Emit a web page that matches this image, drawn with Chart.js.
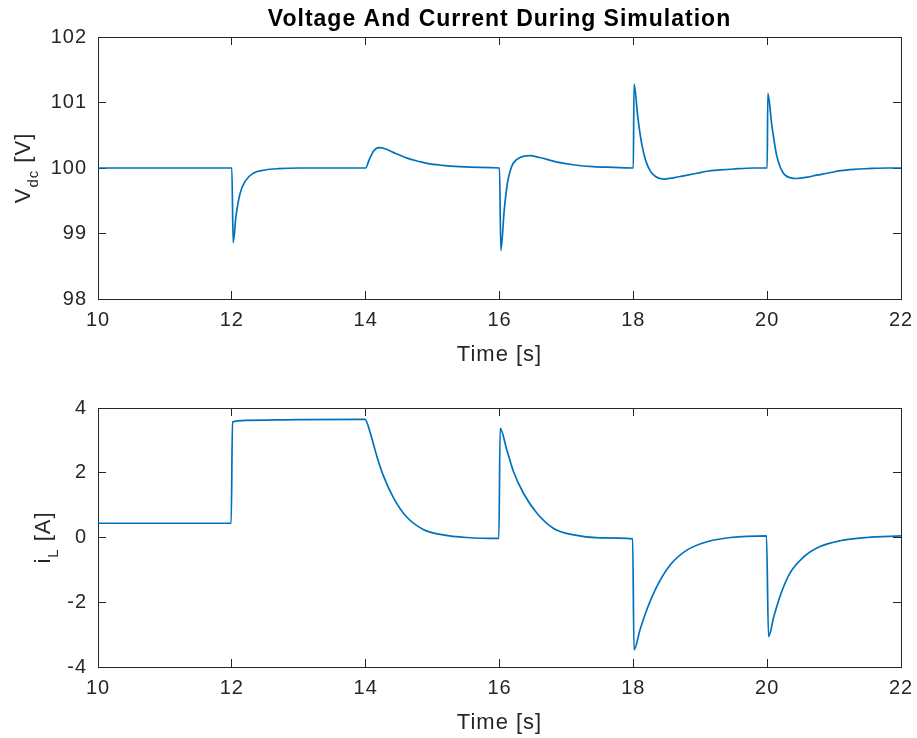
<!DOCTYPE html>
<html>
<head>
<meta charset="utf-8">
<script src="https://cdn.jsdelivr.net/npm/chart.js@4"></script>
<style>
  html, body { margin: 0; padding: 0; background: #fff; }
  #wrap { position: relative; width: 917px; height: 738px; }
  canvas { position: absolute; left: 0; }
  #vChart { top: 0; }
  #iChart { top: 370px; }
</style>
</head>
<body>
<div id="wrap">
  <canvas id="vChart" width="917" height="370"></canvas>
  <canvas id="iChart" width="917" height="368"></canvas>
</div>
<script>
// tick positions
const timeTicks = [10, 12, 14, 16, 18, 20, 22];
const vdcTicks = [98, 99, 100, 101, 102];
const iLTicks = [-4, -2, 0, 2, 4];

// DC link voltage [V]
const tV = [
  10, 12,
  12.02, 12.06, 12.12, 12.2, 12.32, 12.5, 12.7, 13.0,
  14.0, 14.05, 14.12, 14.2, 14.3, 14.45, 14.62, 14.8, 14.92, 15.15, 15.4, 15.7, 16.0,
  16.02, 16.07, 16.12, 16.18, 16.26, 16.36, 16.45, 16.6, 16.86, 17.1, 17.4, 17.7, 18.0,
  18.01, 18.07, 18.12, 18.18, 18.25, 18.33, 18.45, 18.6, 18.75, 18.95, 19.1, 19.3, 19.5, 19.8, 20.0,
  20.01, 20.07, 20.14, 20.2, 20.26, 20.35, 20.44, 20.6, 20.74, 20.9, 21.1, 21.3, 21.5, 21.8, 22.0
];
const vdc = [
  100, 100,
  98.86, 99.25, 99.6, 99.8, 99.92, 99.97, 99.99, 100,
  100, 100.12, 100.26, 100.31, 100.29, 100.22, 100.15, 100.1, 100.07, 100.04, 100.02, 100.01, 100,
  98.74, 99.35, 99.78, 100.02, 100.13, 100.18, 100.19, 100.16, 100.09, 100.05, 100.02, 100.01, 100,
  101.28, 100.75, 100.4, 100.13, 99.96, 99.87, 99.83, 99.85, 99.88, 99.92, 99.95, 99.97, 99.985, 100, 100,
  101.14, 100.65, 100.2, 100.0, 99.9, 99.85, 99.84, 99.86, 99.89, 99.92, 99.96, 99.98, 99.99, 100, 100
];

// inductor current [A]
const tI = [
  10, 11.99, 12.01, 12.2, 13.0, 13.99,
  14.07, 14.17, 14.27, 14.42, 14.61, 14.86, 15.16, 15.51, 15.99,
  16.01, 16.11, 16.21, 16.36, 16.56, 16.81, 17.11, 17.5, 17.99,
  18.01, 18.1, 18.2, 18.35, 18.55, 18.8, 19.1, 19.45, 19.99,
  20.02, 20.1, 20.2, 20.34, 20.54, 20.79, 21.09, 21.49, 22.0
];
const iL = [
  0.44, 0.44, 3.57, 3.62, 3.64, 3.65,
  3.22, 2.49, 1.88, 1.21, 0.64, 0.25, 0.08, 0.0, -0.03,
  3.37, 2.70, 2.03, 1.36, 0.75, 0.28, 0.08, -0.01, -0.04,
  -3.47, -2.85, -2.24, -1.52, -0.85, -0.39, -0.13, 0.0, 0.05,
  -3.06, -2.44, -1.77, -1.10, -0.61, -0.28, -0.10, 0.0, 0.05
];

const lineBlue = '#0072BD';
const axisGrey = '#262626';
const family = '"Liberation Sans", Arial, Helvetica, sans-serif';

// matlab-ish text is a little wider
const spacing = {
  id: 'spacing',
  beforeUpdate(chart) { chart.ctx.letterSpacing = '1px'; },
  beforeDraw(chart) { chart.ctx.letterSpacing = '1px'; }
};

// rotated y label with a subscript part
const yLabel = {
  id: 'yLabel',
  afterDraw(chart, args, opts) {
    const { ctx, chartArea } = chart;
    const cy = (chartArea.top + chartArea.bottom) / 2;
    const big = '22px ' + family;
    const small = '15px ' + family;
    ctx.save();
    ctx.letterSpacing = '1px';
    ctx.fillStyle = axisGrey;
    ctx.textAlign = 'left';
    ctx.textBaseline = 'alphabetic';
    ctx.font = big;
    const w1 = ctx.measureText(opts.main).width;
    const w3 = ctx.measureText(opts.tail).width;
    ctx.font = small;
    const w2 = ctx.measureText(opts.sub).width;
    ctx.translate(opts.x, cy);
    ctx.rotate(-Math.PI / 2);
    let x = -(w1 + w2 + w3) / 2;
    ctx.font = big;
    ctx.fillText(opts.main, x, 0);
    x += w1;
    ctx.font = small;
    ctx.fillText(opts.sub, x, opts.shift);
    x += w2;
    ctx.font = big;
    ctx.fillText(opts.tail, x, 0);
    ctx.restore();
  }
};

function useTicks(list) {
  return scale => { scale.ticks = list.map(v => ({ value: v })); };
}

// fixed axis sizes, no extra room for overhanging labels
function fixSize(w, h) {
  return s => {
    if (w !== null) s.width = w;
    if (h !== null) s.height = h;
    s.paddingLeft = 0;
    s.paddingRight = 0;
    s.paddingTop = 0;
    s.paddingBottom = 0;
  };
}

function boxScales(yMin, yMax, yTicks) {
  const marks = { display: true, drawOnChartArea: false, drawTicks: true, tickLength: -8, color: axisGrey, lineWidth: 1 };
  const border = { display: true, color: axisGrey, width: 1 };
  const tickFont = { family: family, size: 20 };
  return {
    x: {
      type: 'linear', position: 'bottom', min: 10, max: 22,
      afterBuildTicks: useTicks(timeTicks),
      grid: marks, border: border,
      ticks: { color: axisGrey, font: tickFont, padding: 17, maxRotation: 0, autoSkip: false },
      title: { display: true, text: 'Time [s]', color: axisGrey, font: { family: family, size: 22 }, padding: { top: 0, bottom: 2 } },
      afterFit: fixSize(null, 71)
    },
    xTop: {
      type: 'linear', position: 'top', min: 10, max: 22,
      afterBuildTicks: useTicks(timeTicks),
      grid: marks, border: border,
      ticks: { display: false },
      afterFit: fixSize(null, 0)
    },
    y: {
      type: 'linear', position: 'left', min: yMin, max: yMax,
      afterBuildTicks: useTicks(yTicks),
      grid: marks, border: border,
      ticks: { color: axisGrey, font: tickFont, padding: 19 },
      afterFit: fixSize(98, null)
    },
    yRight: {
      type: 'linear', position: 'right', min: yMin, max: yMax,
      afterBuildTicks: useTicks(yTicks),
      grid: marks, border: border,
      ticks: { display: false },
      afterFit: fixSize(0, null)
    }
  };
}

function series(xs, ys) {
  return xs.map((t, i) => ({ x: t, y: ys[i] }));
}

function lineSet(points) {
  return {
    data: points,
    borderColor: lineBlue,
    borderWidth: 1.7,
    pointRadius: 0,
    fill: false,
    cubicInterpolationMode: 'monotone'
  };
}

new Chart(document.getElementById('vChart'), {
  type: 'line',
  data: { datasets: [lineSet(series(tV, vdc))] },
  options: {
    responsive: false,
    animation: false,
    layout: { padding: { left: 0, right: 16, top: 0, bottom: 0 } },
    scales: boxScales(98, 102, vdcTicks),
    plugins: {
      legend: { display: false },
      tooltip: { enabled: false },
      title: {
        display: true,
        fullSize: false,
        text: 'Voltage And Current During Simulation',
        color: '#000',
        font: { family: family, size: 23, weight: 'bold' },
        padding: { top: 6, bottom: 3.4 }
      },
      yLabel: { main: 'V', sub: 'dc', tail: ' [V]', x: 30, shift: 8 }
    }
  },
  plugins: [spacing, yLabel]
});

new Chart(document.getElementById('iChart'), {
  type: 'line',
  data: { datasets: [lineSet(series(tI, iL))] },
  options: {
    responsive: false,
    animation: false,
    layout: { padding: { left: 0, right: 16, top: 38, bottom: 0 } },
    scales: boxScales(-4, 4, iLTicks),
    plugins: {
      legend: { display: false },
      tooltip: { enabled: false },
      yLabel: { main: 'i', sub: 'L', tail: ' [A]', x: 50, shift: 8 }
    }
  },
  plugins: [spacing, yLabel]
});
</script>
</body>
</html>
